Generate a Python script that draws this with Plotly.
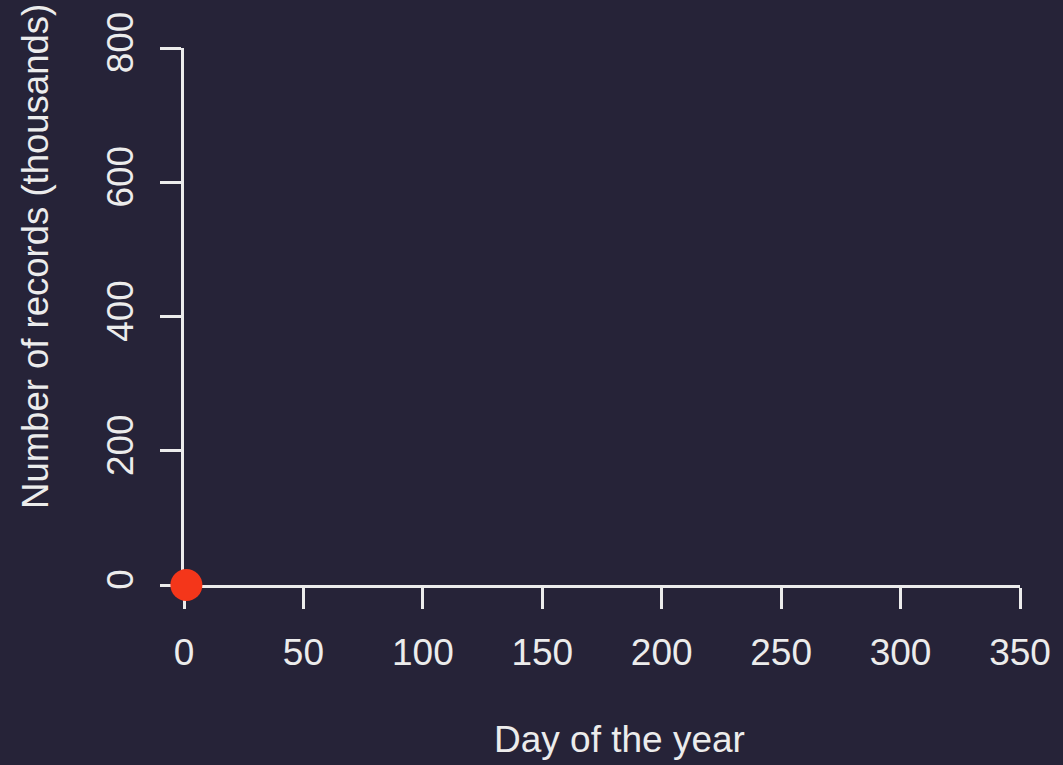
import plotly.graph_objects as go

# Cumulative record count, first day of the animation
days = [1]
records_thousands = [0]

x_ticks = [0, 50, 100, 150, 200, 250, 300, 350]
y_ticks = [0, 200, 400, 600, 800]

bg = "#262338"
fg = "#ececec"
font_family = "Liberation Sans, Arial, sans-serif"
font_size = 37

fig = go.Figure()
fig.add_trace(go.Scatter(
    x=days,
    y=records_thousands,
    mode="markers",
    marker=dict(size=32, color="#f4361a", line=dict(width=0)),
    cliponaxis=False,
    hoverinfo="skip",
    showlegend=False,
))

axis_common = dict(
    showgrid=False,
    zeroline=False,
    showline=True,
    linecolor=fg,
    linewidth=2.5,
    ticks="outside",
    ticklen=21,
    tickwidth=2.5,
    tickcolor=fg,
    tickfont=dict(family=font_family, size=font_size, color=fg),
    layer="below traces",
    fixedrange=True,
)

fig.update_layout(
    width=1063,
    height=765,
    paper_bgcolor=bg,
    plot_bgcolor=bg,
    margin=dict(l=184, r=41, t=47, b=180),
    xaxis=dict(
        range=[0, 350],
        tickmode="array",
        tickvals=x_ticks,
        ticktext=[str(v) for v in x_ticks],
        ticklabelstandoff=12,
        **axis_common,
    ),
    yaxis=dict(
        range=[0, 800],
        tickmode="array",
        tickvals=y_ticks,
        ticktext=[str(v) for v in y_ticks],
        tickangle=-90,
        ticklabelstandoff=12,
        **axis_common,
    ),
    annotations=[
        dict(
            text="Day of the year",
            xref="paper", yref="paper",
            x=(621 - 184) / 838, y=-(740 - 585) / 538,
            xanchor="center", yanchor="middle",
            showarrow=False,
            font=dict(family=font_family, size=font_size, color=fg),
        ),
        dict(
            text="Number of records (thousands)",
            xref="paper", yref="paper",
            x=-(184 - 35) / 838, y=(585 - 256) / 538,
            xanchor="center", yanchor="middle",
            textangle=-90,
            showarrow=False,
            font=dict(family=font_family, size=36.5, color=fg),
        ),
    ],
)

fig.write_html("out.html")
